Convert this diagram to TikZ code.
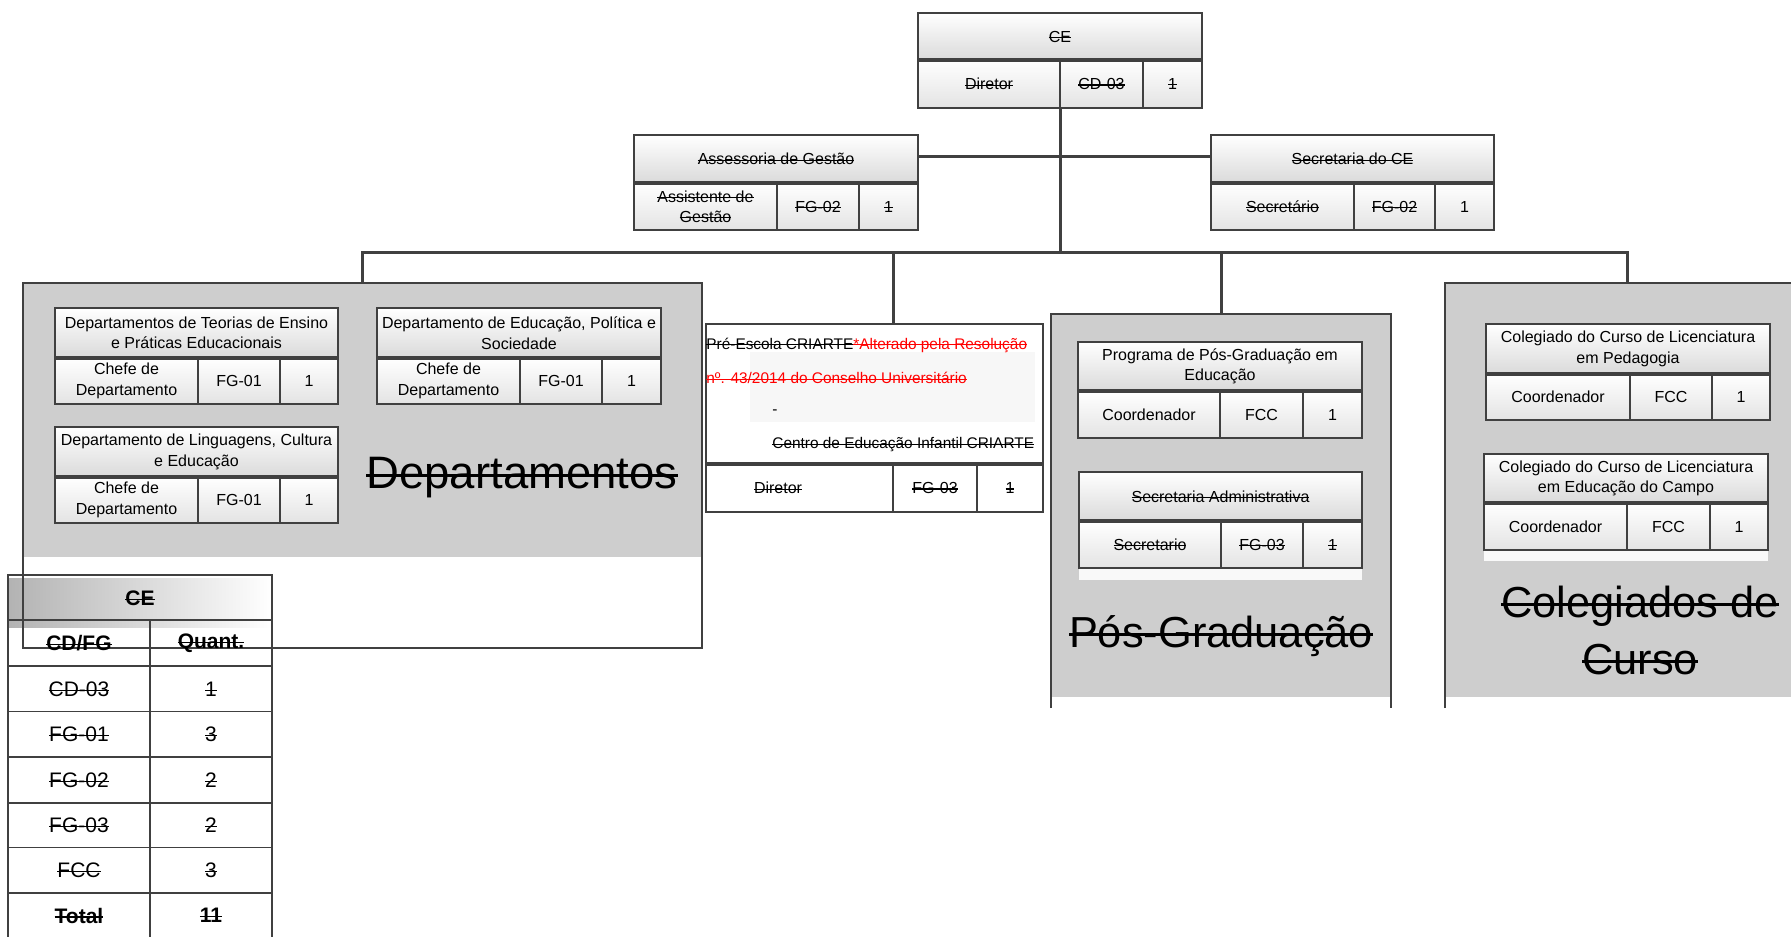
\documentclass[tikz,border=0pt]{standalone}
\usepackage{fontspec}
\setmainfont{Liberation Sans}
\usetikzlibrary{calc,fit}
\definecolor{ln}{RGB}{64,64,64}
\definecolor{panel}{RGB}{206,206,206}
\definecolor{hdr}{RGB}{218,218,218}
\newcommand\strk[1]{{\setbox0=\hbox{#1}\rlap{\rule[0.25em]{\wd0}{0.065em}}\box0}}
\tikzset{
 frame/.style={draw=ln, line width=0.65pt},
 thk/.style={draw=ln, line width=1.9pt},
 conn/.style={draw=ln, line width=1.5pt, line join=miter},
 txt/.style={inner sep=0pt, align=center, font=\fontsize{8}{10.2}\selectfont, text=black},
 ctxt/.style={inner sep=0pt, align=left, font=\fontsize{7.7}{9.5}\selectfont, text=black},
 tbl/.style={inner sep=0pt, align=center, font=\fontsize{10.5}{12}\selectfont},
 big/.style={inner sep=0pt, align=center},
}
\newcommand\obox[9]{%
  \shade[top color=white, bottom color=hdr] (#2,#3) rectangle (#4,#6);
  \shade[top color=white, bottom color=hdr!75] (#2,#6) rectangle (#4,#5);
  \node[fit={(#2,#3) (#4,#5)}, inner sep=0pt, frame] (#1) {};
  \draw[frame] (#7,#6) -- (#7,#5) (#8,#6) -- (#8,#5);
  \draw[thk] (#2,#6) -- (#4,#6);
  \coordinate (#1-d1) at (#7,#3);
  \coordinate (#1-c1) at ($(#2,#6)!0.5!(#7,#5)$);
  \coordinate (#1-c2) at ($(#7,#6)!0.5!(#8,#5)$);
  \coordinate (#1-c3) at ($(#8,#6)!0.5!(#4,#5)$);
  \node[txt] (#1-h) at ($(#2,#3)!0.5!(#4,#6)$) {#9};
}
\newcommand\ocells[4]{%
  \node[txt] (#1-t1) at (#1-c1) {#2};
  \node[txt] (#1-t2) at (#1-c2) {#3};
  \node[txt] (#1-t3) at (#1-c3) {#4};
}
\begin{document}
\begin{tikzpicture}[x=0.5pt,y=-0.5pt]
\useasboundingbox (0,0) rectangle (1791,936);
\begin{scope}
\clip (0,0) rectangle (1791,936);
\fill[white] (0,0) rectangle (1791,936);

% ---- panels
\node[fit={(23,283) (702,557)}, inner sep=0pt, fill=panel] (dp) {};
\shade[left color=gray!60, right color=white] (8,578) rectangle (272,627);
\node[fit={(23,283) (702,648)}, inner sep=0pt, frame] (dpo) {};
\node[fit={(1051,314) (1391,697)}, inner sep=0pt, fill=panel] (pp) {};
\draw[frame] (1051,708) -- (1051,314) -- (1391,314) -- (1391,708);
\node[fit={(1445,283) (1809,697)}, inner sep=0pt, fill=panel] (cp) {};
\draw[frame] (1445,708) -- (1445,283) -- (1809,283);

% ---- top boxes
\obox{ce}{918}{13}{1202}{108}{60}{1060}{1143}{\strk{CE}}
\ocells{ce}{\strk{Diretor}}{\strk{CD-03}}{\strk{1}}
\obox{asg}{634}{135}{918}{230}{183}{777}{859}{\strk{Assessoria de Gestão}}
\ocells{asg}{\strk{Assistente de}\\\strk{Gestão}}{\strk{FG-02}}{\strk{1}}
\obox{sec}{1211}{135}{1494}{230}{183}{1354}{1435}{\strk{Secretaria do CE}}
\ocells{sec}{\strk{Secretário}}{\strk{FG-02}}{1}

% ---- departamentos
\obox{dt1}{55}{308}{338}{404}{358}{198}{280}{Departamentos de Teorias de Ensino\\e Práticas Educacionais}
\ocells{dt1}{Chefe de\\Departamento}{FG-01}{1}
\obox{dt2}{377}{308}{661}{404}{358}{520}{602}{Departamento de Educação, Política e\\Sociedade}
\ocells{dt2}{Chefe de\\Departamento}{FG-01}{1}
\obox{dt3}{55}{427}{338}{523}{477}{198}{280}{Departamento de Linguagens, Cultura\\e Educação}
\ocells{dt3}{Chefe de\\Departamento}{FG-01}{1}
\node[big, anchor=base, font=\fontsize{22.75}{29}\selectfont] (dtt) at (522,488) {\strk{Departamentos}};

% ---- CRIARTE
\node[fit={(706,324) (1043,512)}, inner sep=0pt, frame, fill=white] (cri) {};
\fill[gray!6] (750,352) rectangle (1035,422);
\draw[thk] (706,464) -- (1043,464);
\draw[frame] (893,464) -- (893,512) (977,464) -- (977,512);
\coordinate (cri-d1) at (893,324);
\node[ctxt, anchor=west] (cri-l1) at (706,345) {\strk{Pré-Escola CRIARTE}\textcolor{red}{\strk{*Alterado pela Resolução}}};
\node[ctxt, anchor=west, text=red] (cri-l2) at (706,378) {\strk{nº. 43/2014 do Conselho Universitário}};
\node[ctxt, anchor=west] (cri-dash) at (772,412) {-};
\node[ctxt, anchor=west] (cri-l3) at (772,445) {\strk{Centro de Educação Infantil CRIARTE}};
\node[txt] (cri-t1) at (778,488) {\strk{Diretor}};
\node[txt] (cri-t2) at (935,488) {\strk{FG-03}};
\node[txt] (cri-t3) at (1010,488) {\strk{1}};

% ---- pos-graduacao
\obox{pg1}{1078}{342}{1362}{438}{391}{1220}{1303}{Programa de Pós-Graduação em\\Educação}
\ocells{pg1}{Coordenador}{FCC}{1}
\fill[white!88!panel] (1079,568) rectangle (1362,580);
\obox{pg2}{1079}{472}{1362}{568}{521}{1221}{1303}{\strk{Secretaria Administrativa}}
\ocells{pg2}{\strk{Secretario}}{\strk{FG-03}}{\strk{1}}
\node[big, anchor=base, font=\fontsize{21.7}{29}\selectfont] (pgt) at (1221,647) {\strk{Pós-Graduação}};

% ---- colegiados
\obox{cl1}{1486}{324}{1770}{420}{374}{1630}{1712}{Colegiado do Curso de Licenciatura\\em Pedagogia}
\ocells{cl1}{Coordenador}{FCC}{1}
\fill[white!88!panel] (1484,550) rectangle (1768,561);
\obox{cl2}{1484}{454}{1768}{550}{503}{1627}{1710}{Colegiado do Curso de Licenciatura\\em Educação do Campo}
\ocells{cl2}{Coordenador}{FCC}{1}
\node[big, anchor=base, font=\fontsize{21.7}{29}\selectfont] (clt1) at (1640,617) {\strk{Colegiados de}};
\node[big, anchor=base, font=\fontsize{21.7}{29}\selectfont] (clt2) at (1640,674) {\strk{Curso}};

% ---- connectors
\coordinate (bar) at (0,252);
\coordinate (mid) at (0,156.5);
\draw[conn] (ce.south) -- (ce.south |- bar);
\draw[conn] (asg.east |- mid) -- (sec.west |- mid);
\draw[conn] (dpo.north) -- (dpo.north |- bar) -- (cp.north |- bar) -- (cp.north);
\draw[conn] (cri-d1 |- bar) -- (cri-d1);
\draw[conn] (pp.north |- bar) -- (pp.north);

% ---- table
\node[fit={(8,575) (272,940)}, inner sep=0pt, frame] (tab) {};
\draw[frame] (8,620) -- (272,620) (8,666) -- (272,666) (8,711.5) -- (272,711.5)
  (8,757) -- (272,757) (8,803) -- (272,803) (8,847.5) -- (272,847.5) (8,893) -- (272,893)
  (150,620) -- (150,940);
\node[tbl, font=\fontsize{10.5}{12}\selectfont\bfseries] (tce) at (140,598) {\strk{CE}};
\node[tbl, font=\fontsize{10.5}{12}\selectfont\bfseries] (th1) at (79,643) {\strk{CD/FG}};
\node[tbl, font=\fontsize{10.5}{12}\selectfont\bfseries] (th2) at (211,643) {\strk{Quant.}};
\node[tbl] (r1a) at (79,689) {\strk{CD-03}};
\node[tbl] (r1b) at (211,689) {\strk{1}};
\node[tbl] (r2a) at (79,734) {\strk{FG-01}};
\node[tbl] (r2b) at (211,734) {\strk{3}};
\node[tbl] (r3a) at (79,780) {\strk{FG-02}};
\node[tbl] (r3b) at (211,780) {\strk{2}};
\node[tbl] (r4a) at (79,825) {\strk{FG-03}};
\node[tbl] (r4b) at (211,825) {\strk{2}};
\node[tbl] (r5a) at (79,870) {\strk{FCC}};
\node[tbl] (r5b) at (211,870) {\strk{3}};
\node[tbl, font=\fontsize{10.5}{12}\selectfont\bfseries] (r6a) at (79,915.5) {\strk{Total}};
\node[tbl, font=\fontsize{10.5}{12}\selectfont\bfseries] (r6b) at (211,915.5) {\strk{11}};
\end{scope}
\end{tikzpicture}
\end{document}
